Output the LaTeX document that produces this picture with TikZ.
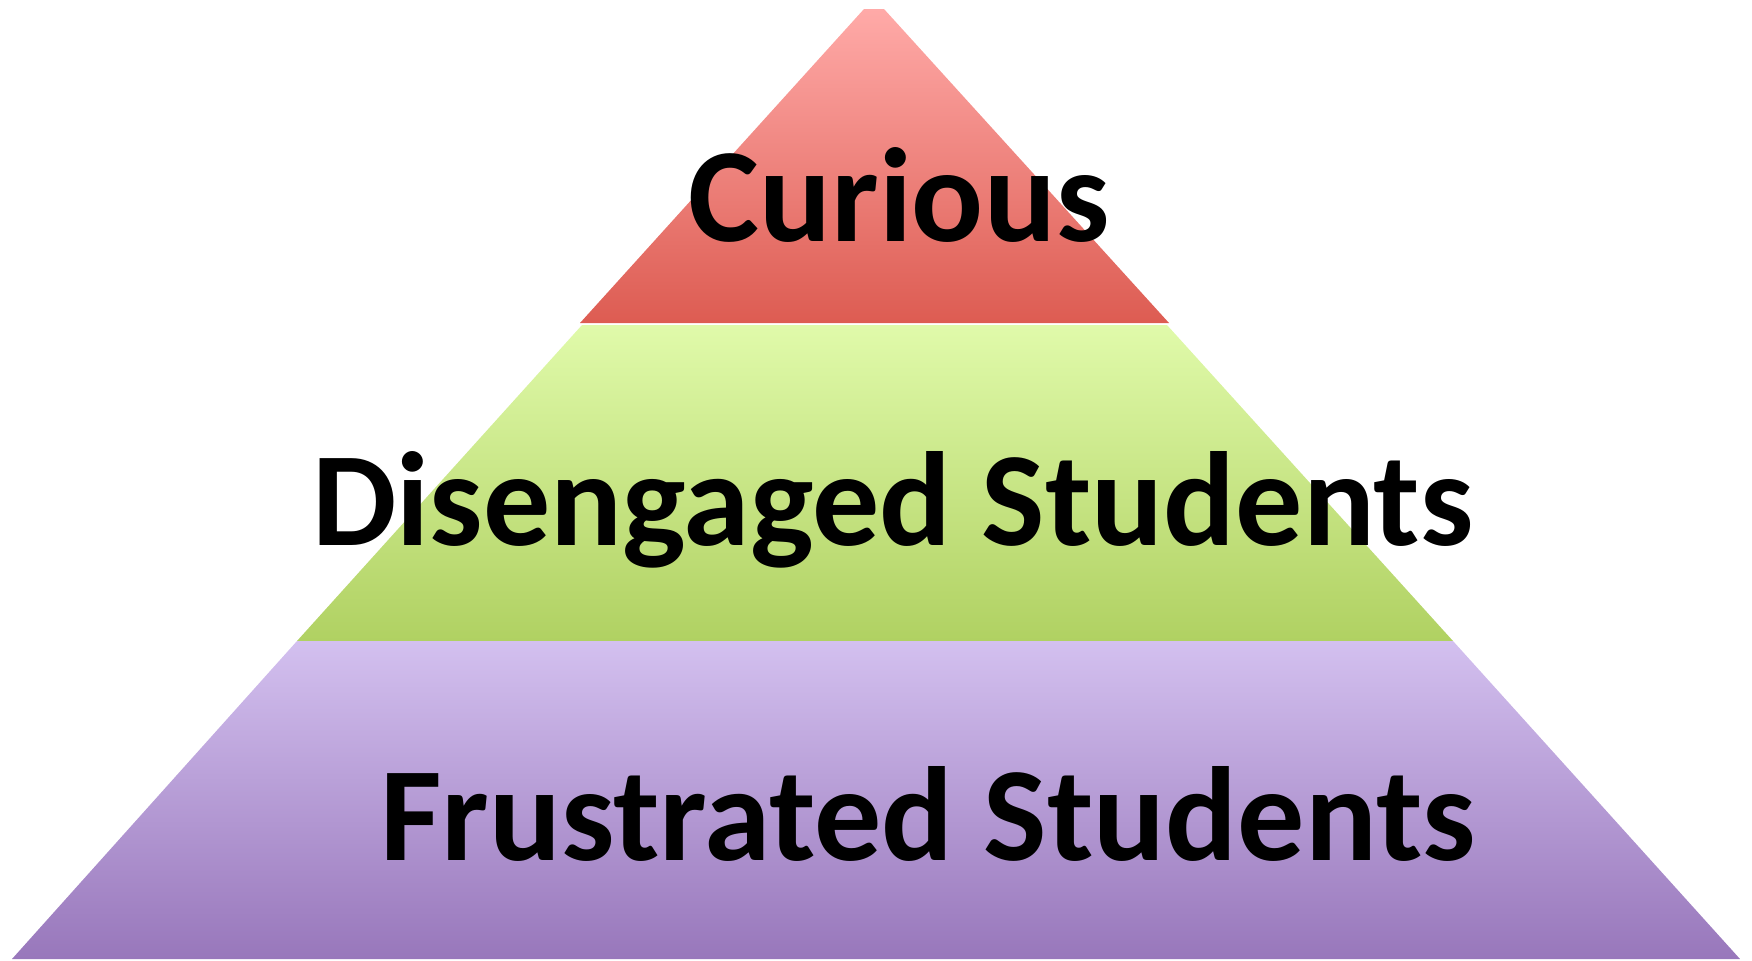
\documentclass[tikz,border=0pt]{standalone}
\usepackage{fontspec}
\setmainfont{Carlito}
\usepackage{tikz}
\usetikzlibrary{calc}
\definecolor{tiptop}{RGB}{255,170,168}
\definecolor{tipbot}{RGB}{221,92,82}
\definecolor{midtop}{RGB}{224,250,170}
\definecolor{midbot}{RGB}{176,209,98}
\definecolor{bastop}{RGB}{211,192,239}
\definecolor{basbot}{RGB}{152,119,187}

\begin{document}
\begin{tikzpicture}[x=0.5pt, y=-0.5pt,
  every node/.style={font=\fontsize{67}{80}\selectfont\bfseries, text=black, inner sep=0pt, anchor=base},
  layer/.style={draw=none}]
\useasboundingbox (0,0) rectangle (1752,960);
% pyramid layers, top to bottom
\shade[layer, top color=tiptop, bottom color=tipbot] (864,9) -- (884,9) -- (1169,323) -- (580,323) -- cycle;
\shade[layer, top color=midtop, bottom color=midbot] (582,325) -- (1167,325) -- (1453,641) -- (297,641) -- cycle;
\shade[layer, top color=bastop, bottom color=basbot] (297,641) -- (1453,641) -- (1740,959) -- (12,959) -- cycle;
% labels
\node (curious) at (899,241) {Curious};
\node (disengaged) at (893,545) {Disengaged Students};
\node (frustrated) at (928,860) {Frustrated Students};
\end{tikzpicture}
\end{document}
